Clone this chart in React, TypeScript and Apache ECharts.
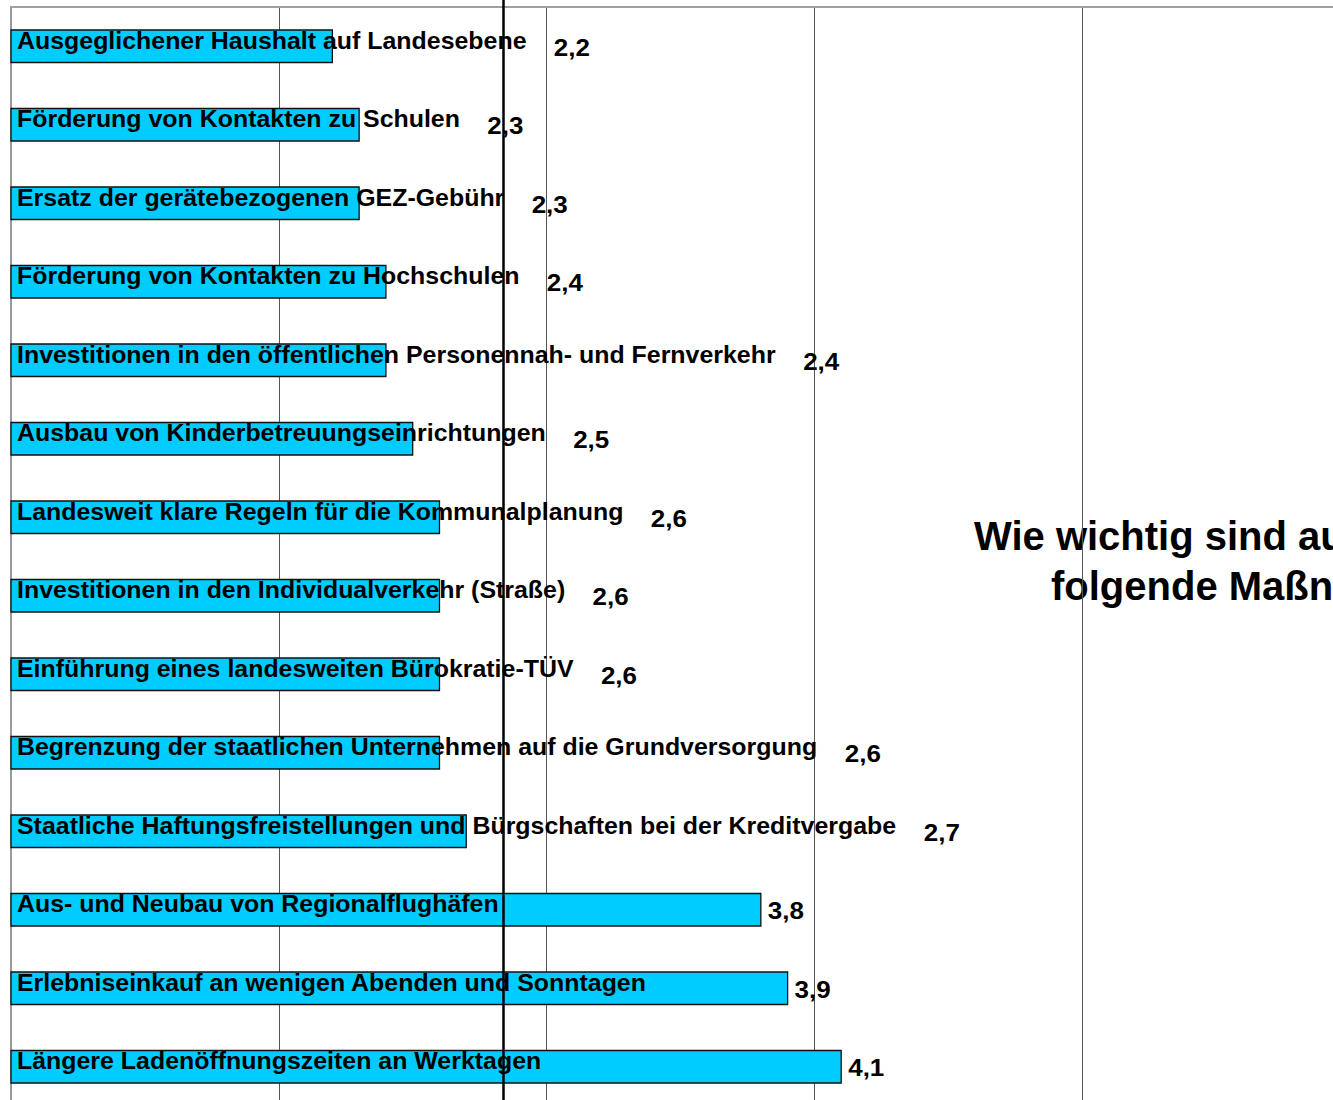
import React, { useEffect, useRef } from "react";
import * as echarts from "echarts";

const CATEGORIES = [
  "Ausgeglichener Haushalt auf Landesebene",
  "Förderung von Kontakten zu Schulen",
  "Ersatz der gerätebezogenen GEZ-Gebühr",
  "Förderung von Kontakten zu Hochschulen",
  "Investitionen in den öffentlichen Personennah- und Fernverkehr",
  "Ausbau von Kinderbetreuungseinrichtungen",
  "Landesweit klare Regeln für die Kommunalplanung",
  "Investitionen in den Individualverkehr (Straße)",
  "Einführung eines landesweiten Bürokratie-TÜV",
  "Begrenzung der staatlichen Unternehmen auf die Grundversorgung",
  "Staatliche Haftungsfreistellungen und Bürgschaften bei der Kreditvergabe",
  "Aus- und Neubau von Regionalflughäfen",
  "Erlebniseinkauf an wenigen Abenden und Sonntagen",
  "Längere Ladenöffnungszeiten an Werktagen",
];

const VALUES = [2.2, 2.3, 2.3, 2.4, 2.4, 2.5, 2.6, 2.6, 2.6, 2.6, 2.7, 3.8, 3.9, 4.1];

const AXIS_MIN = 1;
const AXIS_MAX = 6;
const AXIS_STEP = 1;

const TITLE_LINES = ["Wie wichtig sind au", "folgende Maßn"];

const FONT = '"Liberation Sans", Arial, Helvetica, sans-serif';
const LABEL_SIZE = 23;
const VALUE_SIZE = 24;
const STRETCH = 1.084;

let measureCtx: CanvasRenderingContext2D | null = null;
function measure(text: string, size: number): number {
  if (!measureCtx) measureCtx = document.createElement("canvas").getContext("2d");
  if (!measureCtx) return text.length * size * 0.6;
  measureCtx.font = `bold ${size}px ${FONT}`;
  return measureCtx.measureText(text).width;
}

const fmt = (v: number) => v.toFixed(1).replace(".", ",");

export default function App() {
  const ref = useRef<HTMLDivElement>(null);

  useEffect(() => {
    if (!ref.current) return;
    const chart = echarts.init(ref.current, undefined, { renderer: "svg" });
    const option: any = {
      animation: false,
      backgroundColor: "#ffffff",
      grid: { left: 11, top: 7, width: 1339, height: 1099, containLabel: false },
      xAxis: {
        type: "value",
        position: "top",
        min: AXIS_MIN,
        max: AXIS_MAX,
        interval: AXIS_STEP,
        axisLine: { show: true, lineStyle: { color: "#a0a0a0", width: 2 } },
        axisTick: { show: false },
        axisLabel: { show: false },
        splitLine: { show: true, lineStyle: { color: "#555555", width: 1 } },
      },
      yAxis: {
        type: "category",
        inverse: true,
        data: CATEGORIES,
        axisLine: { show: true, lineStyle: { color: "#999999", width: 2 } },
        axisTick: { show: false },
        axisLabel: { show: false },
        splitLine: { show: false },
      },
      series: [
        {
          type: "custom",
          name: "Wichtigkeit",
          encode: { x: 0, y: 1 },
          data: VALUES.map((v, i) => [v, i]),
          z: 3,
          renderItem: (params: any, api: any) => {
            const i = params.dataIndex;
            const v = api.value(0);
            const cat = api.value(1);
            const start = api.coord([AXIS_MIN, cat]);
            const end = api.coord([v, cat]);
            const band = api.size([0, 1])[1];
            const h = band * 0.414;
            const name = CATEGORIES[i];
            const nameX = start[0] + 6;
            const nameEnd = nameX + measure(name, LABEL_SIZE) * STRETCH;
            const valX = Math.max(end[0] + 7, nameEnd + 27);
            const textStyle = {
              fontWeight: "bold",
              fontFamily: FONT,
              fill: "#000000",
              align: "left",
              verticalAlign: "middle",
            };
            return {
              type: "group",
              children: [
                {
                  type: "rect",
                  shape: { x: start[0], y: end[1] - h / 2, width: end[0] - start[0], height: h },
                  style: { fill: "#00ccff", stroke: "#111111", lineWidth: 1.3 },
                },
                {
                  type: "text",
                  x: nameX,
                  y: end[1] - 5.5,
                  scaleX: STRETCH,
                  style: { ...textStyle, fontSize: LABEL_SIZE, text: name },
                },
                {
                  type: "text",
                  x: valX,
                  y: end[1] + 1,
                  scaleX: STRETCH,
                  style: { ...textStyle, fontSize: VALUE_SIZE, text: fmt(v) },
                },
              ],
            };
          },
        },
      ],
      graphic: [
        {
          type: "text",
          x: 974,
          y: 536,
          z: -1,
          style: {
            text: TITLE_LINES[0],
            fontSize: 40,
            fontWeight: "bold",
            fontFamily: FONT,
            fill: "#000000",
            align: "left",
            verticalAlign: "middle",
          },
        },
        {
          type: "text",
          x: 1051,
          y: 586,
          z: -1,
          style: {
            text: TITLE_LINES[1],
            fontSize: 40,
            fontWeight: "bold",
            fontFamily: FONT,
            fill: "#000000",
            align: "left",
            verticalAlign: "middle",
          },
        },
        {
          type: "line",
          z: 100,
          shape: { x1: 503.5, y1: 0, x2: 503.5, y2: 1110 },
          style: { stroke: "#000000", lineWidth: 2.5 },
        },
      ],
    };
    chart.setOption(option);
    return () => chart.dispose();
  }, []);

  return (
    <div
      style={{
        position: "fixed",
        left: 0,
        top: 0,
        width: 1333,
        height: 1100,
        overflow: "hidden",
        background: "#ffffff",
      }}
    >
      <div ref={ref} style={{ width: 1360, height: 1110 }} />
    </div>
  );
}
